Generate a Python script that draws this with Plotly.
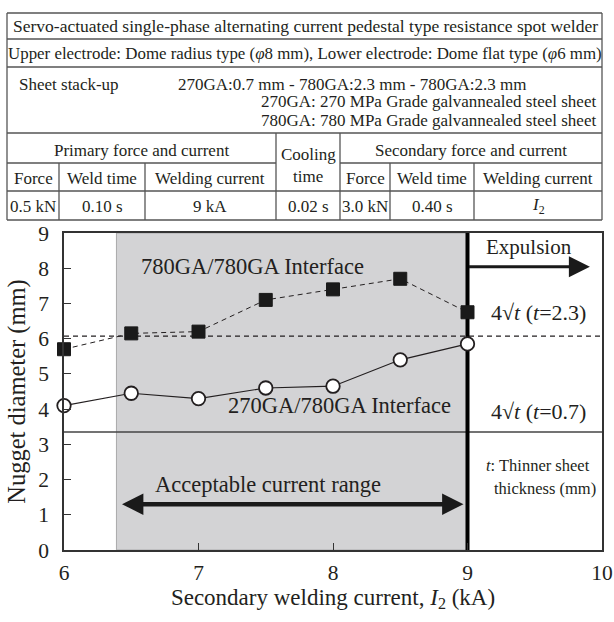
import plotly.graph_objects as go

# ---------------- data ----------------
current_kA = [6.0, 6.5, 7.0, 7.5, 8.0, 8.5, 9.0]
d_780_780 = [5.7, 6.15, 6.2, 7.1, 7.4, 7.7, 6.75]
d_270_780 = [4.1, 4.45, 4.3, 4.6, 4.65, 5.4, 5.85]
crit_t23 = 6.07   # 4*sqrt(2.3)
crit_t07 = 3.35   # 4*sqrt(0.7)
acc_lo, acc_hi = 6.39, 9.0
x_ticks = [6, 7, 8, 9, 10]
y_ticks = list(range(0, 10))

W, H = 614, 622
L, R, T, B = 64, 12, 233, 72
PW, PH = W - L - R, H - T - B
FONT = "Liberation Serif"
INK = "#231f20"
XMIN, XMAX = x_ticks[0], x_ticks[-1]
YMIN, YMAX = y_ticks[0], y_ticks[-1]


def px(x):
    return (x - L) / PW


def py(y):
    return (H - B - y) / PH


fig = go.Figure()

# shaded acceptable region
fig.add_shape(type="rect", xref="x", yref="y", x0=acc_lo, x1=acc_hi, y0=YMIN, y1=YMAX,
              fillcolor="#d3d3d5", line=dict(color="#a9a9ab", width=1), layer="below")
# critical lines
fig.add_shape(type="line", xref="x", yref="y", x0=XMIN, x1=XMAX, y0=crit_t23, y1=crit_t23,
              line=dict(color=INK, width=1.2, dash="5px,4px"), layer="below")
fig.add_shape(type="line", xref="x", yref="y", x0=XMIN, x1=XMAX, y0=crit_t07, y1=crit_t07,
              line=dict(color="#444", width=1.6), layer="below")
# expulsion line
fig.add_shape(type="line", xref="x", yref="y", x0=acc_hi, x1=acc_hi, y0=YMIN, y1=YMAX,
              line=dict(color="black", width=4), layer="below")

fig.add_trace(go.Scatter(x=current_kA, y=d_780_780, mode="lines+markers",
                         line=dict(color=INK, width=1, dash="5px,4px"),
                         marker=dict(symbol="square", size=13, color="#1a1a1a",
                                     line=dict(color="#1a1a1a", width=1)),
                         showlegend=False, cliponaxis=False))
fig.add_trace(go.Scatter(x=current_kA, y=d_270_780, mode="lines+markers",
                         line=dict(color=INK, width=1.2),
                         marker=dict(symbol="circle", size=13.5, color="white",
                                     line=dict(color=INK, width=1.8)),
                         showlegend=False, cliponaxis=False))

ann = []
tf = dict(family=FONT, size=22.5, color=INK)
ann.append(dict(x=6.56, y=8.05, xref="x", yref="y", text="780GA/780GA Interface",
                showarrow=False, xanchor="left", font=tf))
ann.append(dict(x=8.05, y=4.1, xref="x", yref="y", text="270GA/780GA Interface",
                showarrow=False, xanchor="center", font=tf))
ann.append(dict(x=7.52, y=1.85, xref="x", yref="y", text="Acceptable current range",
                showarrow=False, xanchor="center", font=tf))
# double arrow
ann.append(dict(x=acc_hi - 0.03, y=1.3, ax=acc_lo + 0.03, ay=1.3, xref="x", yref="y",
                axref="x", ayref="y", text="", showarrow=True, arrowhead=2,
                arrowside="end+start", arrowsize=0.95, arrowwidth=4.5, arrowcolor="#1a1a1a"))
# expulsion arrow
ann.append(dict(x=9.91, y=8.04, ax=acc_hi, ay=8.04, xref="x", yref="y",
                axref="x", ayref="y", text="", showarrow=True, arrowhead=2,
                arrowsize=1.4, arrowwidth=3, arrowcolor="#1a1a1a"))
ann.append(dict(x=9.46, y=8.6, xref="x", yref="y", text="Expulsion",
                showarrow=False, xanchor="center", font=dict(family=FONT, size=21, color=INK)))
sf = dict(family=FONT, size=22, color=INK)
ann.append(dict(x=9.53, y=6.73, xref="x", yref="y",
                text="4√<i>t</i> (<i>t</i>=2.3)", showarrow=False, xanchor="center", font=sf))
ann.append(dict(x=9.53, y=3.93, xref="x", yref="y",
                text="4√<i>t</i> (<i>t</i>=0.7)", showarrow=False, xanchor="center", font=sf))
nf = dict(family=FONT, size=16.5, color=INK)
ann.append(dict(x=9.12, y=2.41, xref="x", yref="y", text="<i>t</i>: Thinner sheet",
                showarrow=False, xanchor="left", font=nf))
ann.append(dict(x=9.18, y=1.76, xref="x", yref="y", text="thickness (mm)",
                showarrow=False, xanchor="left", font=nf))

# ---------------- table ----------------
TL, TR = 7, 602
hl = [(13, TL, TR), (39, TL, TR), (67, TL, TR), (133, TL, TR),
      (163, TL, 276), (163, 340, TR), (191, TL, TR), (220, TL, TR)]
vl = [(TL, 13, 220), (TR, 13, 220), (276, 133, 220), (340, 133, 220),
      (59, 163, 220), (145, 163, 220), (390, 163, 220), (474, 163, 220)]
for yy, x0, x1 in hl:
    fig.add_shape(type="line", xref="paper", yref="paper", x0=px(x0), x1=px(x1),
                  y0=py(yy), y1=py(yy), line=dict(color="#555", width=1.3))
for xx, y0, y1 in vl:
    fig.add_shape(type="line", xref="paper", yref="paper", x0=px(xx), x1=px(xx),
                  y0=py(y0), y1=py(y1), line=dict(color="#555", width=1.3))


def cell(x, y, text, anchor="center", size=17):
    ann.append(dict(x=px(x), y=py(y), xref="paper", yref="paper", text=text,
                    showarrow=False, xanchor=anchor, yanchor="middle",
                    font=dict(family=FONT, size=size, color=INK)))


cell(305, 26, "Servo-actuated single-phase alternating current pedestal type resistance spot welder", size=17.5)
cell(305, 53, "Upper electrode: Dome radius type (<i>φ</i>8 mm), Lower electrode: Dome flat type (<i>φ</i>6 mm)", size=16.9)
cell(17, 84, "Sheet stack-up", "left")
cell(176, 84, "270GA:0.7 mm - 780GA:2.3 mm - 780GA:2.3 mm", "left")
cell(598, 102, "270GA: 270 MPa Grade galvannealed steel sheet", "right")
cell(598, 120, "780GA: 780 MPa Grade galvannealed steel sheet", "right")
cell(141, 150, "Primary force and current")
cell(308, 154, "Cooling")
cell(308, 176, "time")
cell(471, 150, "Secondary force and current")
for x, t in [(33, "Force"), (102, "Weld time"), (210, "Welding current"),
             (365, "Force"), (432, "Weld time"), (538, "Welding current")]:
    cell(x, 178, t)
for x, t in [(33, "0.5 kN"), (102, "0.10 s"), (210, "9 kA"), (308, "0.02 s"),
             (365, "3.0 kN"), (432, "0.40 s"), (538, "<i>I</i><sub>2</sub>")]:
    cell(x, 206, t)

fig.update_layout(
    width=W, height=H, margin=dict(l=L, r=R, t=T, b=B, autoexpand=False),
    paper_bgcolor="white", plot_bgcolor="white",
    annotations=ann, showlegend=False,
    font=dict(family=FONT, color=INK),
)
axis_common = dict(showline=True, mirror=True, linecolor="#333", linewidth=1.5,
                   ticks="inside", ticklen=7, tickcolor="#333", showgrid=False,
                   zeroline=False, automargin=False,
                   tickfont=dict(family=FONT, size=21.5, color=INK))
fig.update_xaxes(range=[XMIN, XMAX], tickvals=x_ticks, ticklabelstandoff=2, **axis_common,
                 title=dict(text="Secondary welding current, <i>I</i><sub>2</sub> (kA)",
                            font=dict(family=FONT, size=23, color=INK), standoff=4))
fig.update_yaxes(range=[YMIN, YMAX], tickvals=y_ticks, ticklabelstandoff=9, **axis_common,
                 title=dict(text="Nugget diameter (mm)",
                            font=dict(family=FONT, size=24.5, color=INK), standoff=6))

fig.write_html("out.html", config={"displayModeBar": False},
               post_script="document.body.style.margin='0';document.body.style.overflow='hidden';")
